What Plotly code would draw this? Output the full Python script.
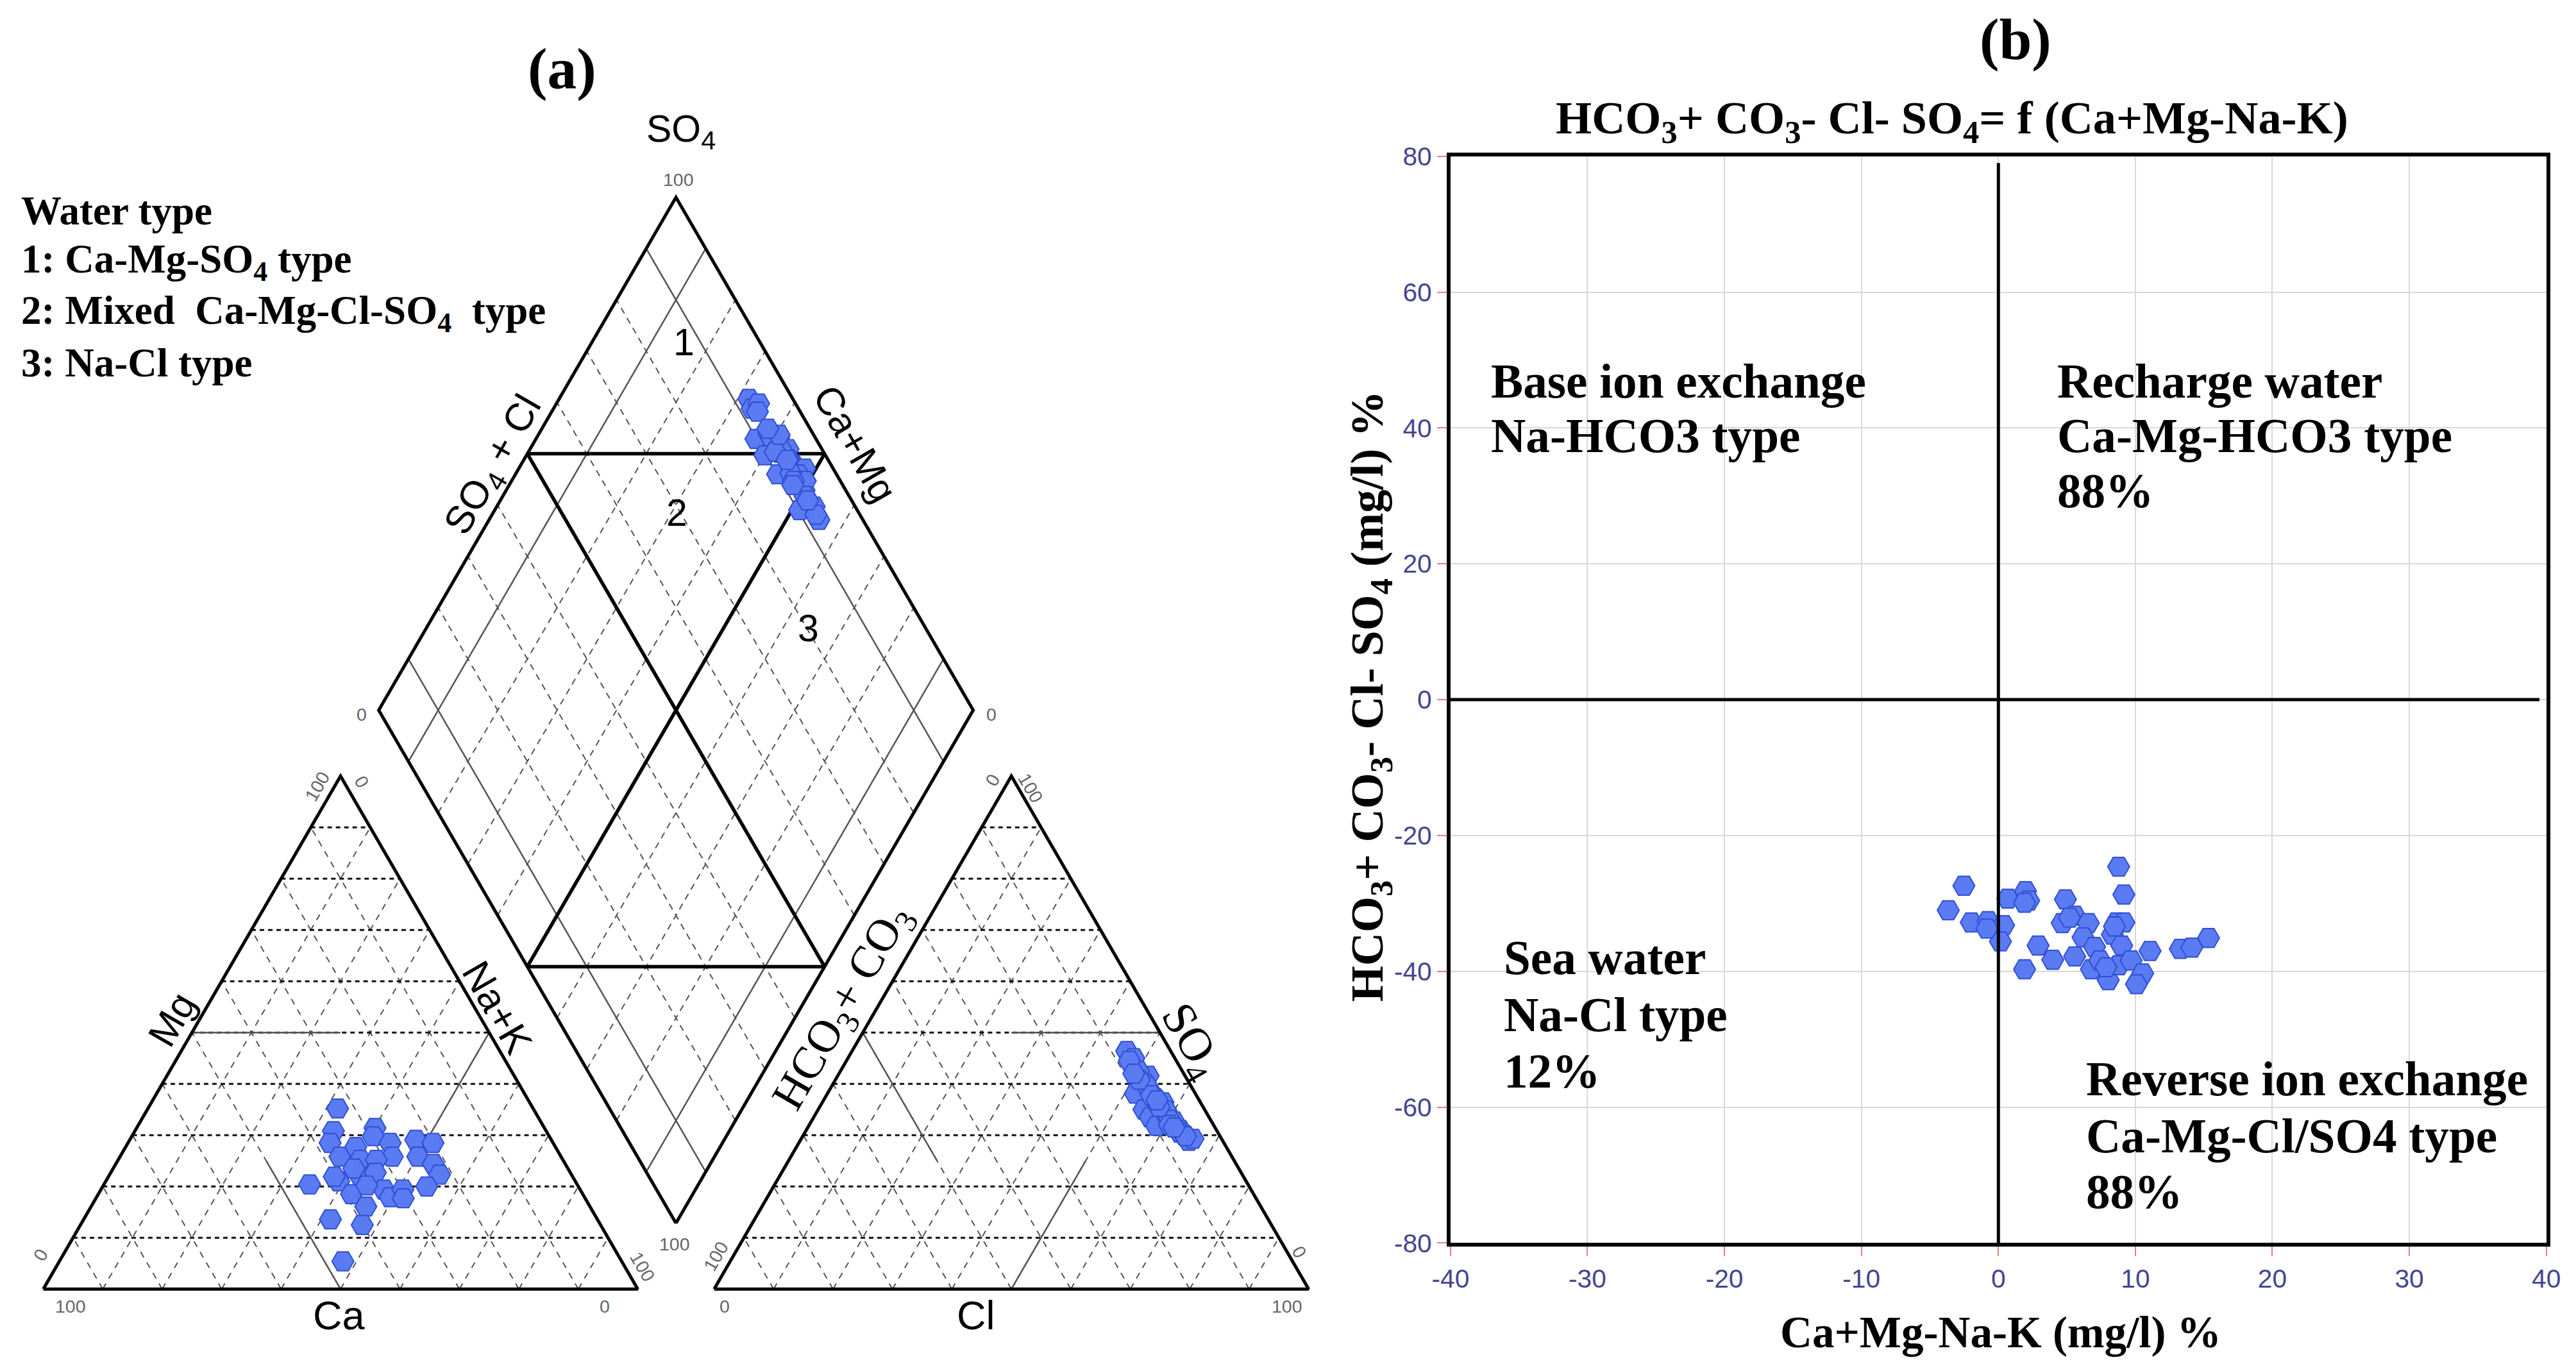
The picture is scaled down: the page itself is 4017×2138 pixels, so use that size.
import math
import plotly.graph_objects as go

W, H = 4017, 2138

# ---------------- Piper diagram samples (% of meq/l) ----------------
mg_pct = [35.2, 30.8, 28.5, 25.8, 27.7, 31.4, 29.8, 28.5, 25.8, 25.2, 25.2, 29.1, 28.5, 25.8, 24.4, 22.3, 20.0,
          20.4, 21.0, 21.9, 22.7, 18.5, 19.4, 17.9, 19.4, 17.7, 16.1, 13.6, 12.5, 5.4, 23.5, 20.2, 21.9]
nak_pct = [31.9, 33.4, 34.0, 37.0, 38.7, 40.1, 40.6, 44.1, 45.8, 40.7, 43.4, 48.1, 51.3, 50.1, 53.4, 55.5, 54.5,
           34.6, 39.2, 42.4, 44.5, 42.6, 47.6, 49.4, 50.8, 51.7, 46.2, 41.5, 47.4, 47.7, 40.5, 44.3, 38.0]
so4_pct = [46.4, 43.9, 41.6, 38.1, 38.5, 35.0, 36.4, 33.5, 32.7, 31.0, 28.9, 29.3, 31.8, 34.3, 45.0, 42.5, 40.0,
           37.2, 39.5, 36.0, 34.8, 33.0, 30.5, 30.0, 32.0, 35.5, 37.8, 40.8, 44.5, 42.0, 29.8, 31.5, 36.8]
cl_pct = [46.2, 48.3, 52.2, 51.8, 54.1, 54.8, 57.3, 56.6, 61.0, 62.9, 65.4, 65.9, 58.5, 58.7, 48.1, 50.1, 52.6,
          55.6, 53.1, 56.6, 58.6, 60.1, 63.1, 64.1, 60.6, 57.1, 54.6, 51.1, 47.6, 49.6, 64.4, 61.6, 56.1]

# ---------------- Chadha diagram samples ----------------
chadha_x = [8.78, -2.52, 9.16, -3.66, 0.69, 1.98, 2.21, 4.89, -1.98, -0.76, 0.38, 0.15, 4.66, 5.57, 6.56, 8.63,
            9.16, 6.18, 7.02, 8.32, 9.0, 2.9, 3.97, 1.91, 5.57, 6.79, 8.02, 8.78, 9.69, 10.53, 10.08, 11.07,
            13.28, 14.12, 15.34, 7.4, -0.84, 5.19, 7.86, 8.47, 1.91]
chadha_y = [-24.6, -27.4, -28.7, -31.0, -29.3, -28.2, -29.6, -29.4, -32.8, -32.6, -33.2, -35.6, -32.9, -31.8,
            -32.9, -32.8, -32.8, -35.0, -36.4, -34.6, -36.2, -36.2, -38.3, -39.7, -37.8, -39.7, -41.3, -39.1,
            -38.4, -40.3, -41.9, -37.0, -36.7, -36.5, -35.1, -38.4, -33.7, -32.1, -39.4, -33.4, -29.9]

x_tickvals = [-40, -30, -20, -10, 0, 10, 20, 30, 40]
x_ticktext = ["-40", "-30", "-20", "-10", "0", "10", "20", "30", "40"]
y_tickvals = [-80, -60, -40, -20, 0, 20, 40, 60, 80]
y_ticktext = ["-80", "-60", "-40", "-20", "0", "20", "40", "60", "80"]

grid_steps = [10, 20, 30, 40, 50, 60, 70, 80, 90]

SERIF = "Liberation Serif"
SANS = "Liberation Sans"
MARKER_FILL = "#5b7bf2"
MARKER_EDGE = "#2f4fd4"

# compensation of the page placement seen in the rendered picture
AX, SX = 32.5, 0.986
AY, SY = 27.7, 0.981
F = 1.0 / ((SX + SY) / 2)


def cx(x):
    return (x - AX) / SX


def cy(y):
    return (y - AY) / SY


# ---------------- Piper geometry ----------------
S3 = math.sqrt(3) / 2
GAP = 12.85
AX0 = 100 + GAP
BX, BY = 100 + GAP / 2, GAP * S3


def tern(right, top, x0=0.0):
    return x0 + right + top / 2.0, top * S3


def dia(cm, sc):
    return BX + (sc - cm) / 2.0, BY + (sc + cm) * S3


def seg_trace(segs, color, width, dash="solid"):
    xs, ys = [], []
    for seg in segs:
        for p in seg:
            xs.append(p[0]); ys.append(p[1])
        xs.append(None); ys.append(None)
    return go.Scatter(x=xs, y=ys, mode="lines", line=dict(color=color, width=width, dash=dash),
                      hoverinfo="skip", showlegend=False, xaxis="x", yaxis="y")


h_segs, s_segs, d_segs = [], [], []
for x0 in (0.0, AX0):
    for k in grid_steps:
        h_segs.append([tern(0, k, x0), tern(100 - k, k, x0)])
        s_segs.append([tern(100 - k, 0, x0), tern(0, 100 - k, x0)])
        s_segs.append([tern(k, 0, x0), tern(k, 100 - k, x0)])
for k in grid_steps:
    if k in (10, 50, 90):
        continue
    d_segs.append([dia(k, 0), dia(k, 100)])
    d_segs.append([dia(0, k), dia(100, k)])

solid_segs = [
    [tern(0, 50), tern(25, 50)], [tern(50, 0), tern(25, 25)], [tern(50, 50), tern(50, 25)],
    [tern(25, 50, AX0), tern(50, 50, AX0)], [tern(0, 50, AX0), tern(25, 25, AX0)], [tern(50, 0, AX0), tern(50, 25, AX0)],
]
for k in (10, 90):
    solid_segs.append([dia(k, 0), dia(k, 100)])
    solid_segs.append([dia(0, k), dia(100, k)])

outline_segs = [
    [tern(0, 0), tern(100, 0), tern(0, 100), tern(0, 0)],
    [tern(0, 0, AX0), tern(100, 0, AX0), tern(0, 100, AX0), tern(0, 0, AX0)],
    [dia(0, 0), dia(100, 0), dia(100, 100), dia(0, 100), dia(0, 0)],
]
bold_segs = [
    [dia(100, 50), dia(50, 100)], [dia(50, 0), dia(0, 50)],
    [dia(100, 50), dia(0, 50)], [dia(50, 100), dia(50, 0)],
]

fig = go.Figure()
fig.add_trace(seg_trace(s_segs, "#555555", 2, "10px,9px"))
fig.add_trace(seg_trace(h_segs, "#111111", 3, "7px,6px"))
fig.add_trace(seg_trace(d_segs, "#555555", 2, "10px,8px"))
fig.add_trace(seg_trace(solid_segs, "#555555", 2.5))
fig.add_trace(seg_trace(outline_segs, "#000000", 5))
fig.add_trace(seg_trace(bold_segs, "#000000", 5.5))

# sample points
cat_pts = [tern(n, m) for n, m in zip(nak_pct, mg_pct)]
an_pts = [tern(c, s, AX0) for c, s in zip(cl_pct, so4_pct)]
dia_pts = [dia(100 - n, s + c) for n, s, c in zip(nak_pct, so4_pct, cl_pct)]
marker = dict(symbol="hexagon2", size=34, color=MARKER_FILL, line=dict(color=MARKER_EDGE, width=2))
for pts in (cat_pts, an_pts, dia_pts):
    fig.add_trace(go.Scatter(x=[p[0] for p in pts], y=[p[1] for p in pts], mode="markers", marker=marker,
                             hoverinfo="skip", showlegend=False, xaxis="x", yaxis="y"))

# Chadha scatter
fig.add_trace(go.Scatter(x=chadha_x, y=chadha_y, mode="markers", marker=marker, hoverinfo="skip",
                         showlegend=False, xaxis="x2", yaxis="y2"))

# ---------------- annotations ----------------
ann = []


def txt(text, xp, yp, size, family=SANS, color="#000000", angle=0, xanchor="center", bold=False):
    t = "<b>%s</b>" % text if bold else text
    ann.append(dict(text=t, x=cx(xp) / W, y=1 - cy(yp) / H, xref="paper", yref="paper", showarrow=False,
                    font=dict(family=family, size=round(size * F, 1), color=color), textangle=angle,
                    xanchor=xanchor, yanchor="middle"))


# panel (a)
txt("(a)", 871, 104, 90, SERIF, bold=True)
txt("SO<sub>4</sub>", 1056, 202, 58)
legend_lines = ["Water type", "1: Ca-Mg-SO<sub>4</sub> type", "2: Mixed  Ca-Mg-Cl-SO<sub>4</sub>  type", "3: Na-Cl type"]
for line, yp in zip(legend_lines, [326, 406, 486, 564]):
    txt(line, 27, yp, 62, SERIF, xanchor="left", bold=True)
txt("SO<sub>4</sub> + Cl", 766, 725, 60, angle=-60)
txt("Ca+Mg", 1328, 690, 60, angle=60)
txt("1", 1061, 532, 58)
txt("2", 1050, 799, 58)
txt("3", 1255, 979, 58)
txt("Mg", 264, 1590, 60, angle=-60)
txt("Na+K", 770, 1572, 60, angle=60)
txt("Ca", 523, 2053, 62)
txt("HCO<sub>3</sub>+ CO<sub>3</sub>", 1310, 1572, 70, SERIF, angle=-60)
txt("SO<sub>4</sub>", 1850, 1625, 72, SERIF, angle=60)
txt("Cl", 1516, 2053, 62)
GREY = "#666666"
for t, xp, yp, a in [("100", 1052, 277, 0), ("0", 559, 1113, 0), ("0", 1540, 1113, 0), ("100", 1046, 1942, 0),
                     ("100", 105, 2039, 0), ("0", 938, 2039, 0), ("0", 59, 1959, -60), ("100", 490, 1226, -60),
                     ("0", 559, 1219, 60), ("100", 996, 1977, 60),
                     ("0", 1542, 1216, -60), ("100", 1601, 1229, 60), ("100", 1111, 1961, -60), ("0", 2019, 1954, 60),
                     ("0", 1124, 2039, 0), ("100", 2000, 2039, 0)]:
    txt(t, xp, yp, 28, SANS, GREY, angle=a)

# panel (b)
txt("(b)", 3135, 58, 90, SERIF, bold=True)
txt("HCO<sub>3</sub>+ CO<sub>3</sub>- Cl- SO<sub>4</sub>= f (Ca+Mg-Na-K)", 3036, 186, 71, SERIF, bold=True)
txt("Ca+Mg-Na-K (mg/l) %", 3112, 2079, 68, SERIF, bold=True)
txt("HCO<sub>3</sub>+ CO<sub>3</sub>- Cl- SO<sub>4</sub> (mg/l) %", 2130, 1085, 71, SERIF, angle=-90, bold=True)

quad_lines = [
    ("Base ion exchange", -37.15, 46.9), ("Na-HCO3 type", -37.15, 38.9),
    ("Recharge water", 4.2, 46.9), ("Ca-Mg-HCO3 type", 4.2, 38.9), ("88%", 4.2, 30.7),
    ("Sea water", -36.2, -38.0), ("Na-Cl type", -36.2, -46.4), ("12%", -36.2, -54.7),
    ("Reverse ion exchange", 6.3, -55.8), ("Ca-Mg-Cl/SO4 type", 6.3, -64.2), ("88%", 6.3, -72.5),
]
for t, qx, qy in quad_lines:
    ann.append(dict(text="<b>%s</b>" % t, x=qx, y=qy, xref="x2", yref="y2", showarrow=False,
                    font=dict(family=SERIF, size=round(74 * F, 1), color="#000000"),
                    xanchor="left", yanchor="middle"))

# piper axes: reference pixel mapping px = 63 + 9.26*X ; py = 2012 - 9.26*Y
SC = 9.26
x0c, kx = cx(63), SC / SX
y0c, ky = cy(2012), SC / SY
xdom = [0, 0.535]
xr = [-x0c / kx, (xdom[1] * W - x0c) / kx]
yr = [(y0c - H) / ky, y0c / ky]

axis_font = dict(family=SANS, size=round(40 * F, 1), color="#45458f")
fig.update_layout(
    width=W, height=H, autosize=False, margin=dict(l=0, r=0, t=0, b=0),
    paper_bgcolor="white", plot_bgcolor="white", showlegend=False,
    annotations=ann,
    xaxis=dict(domain=xdom, range=xr, visible=False, fixedrange=True),
    yaxis=dict(domain=[0, 1], range=yr, visible=False, fixedrange=True),
    xaxis2=dict(domain=[cx(2255) / W, cx(3962) / W], range=[-40, 40], anchor="y2",
                tickvals=x_tickvals, ticktext=x_ticktext, showgrid=True, gridcolor="#d9d9d9", gridwidth=2,
                zeroline=False, showline=True, mirror=True, linecolor="#000000", linewidth=6,
                ticks="outside", ticklen=15, tickwidth=2, tickcolor="#e58080", tickfont=axis_font),
    yaxis2=dict(domain=[1 - cy(1940) / H, 1 - cy(241) / H], range=[-80, 80], anchor="x2",
                tickvals=y_tickvals, ticktext=y_ticktext, showgrid=True, gridcolor="#d9d9d9", gridwidth=2,
                zeroline=False, showline=True, mirror=True, linecolor="#000000", linewidth=6,
                ticks="outside", ticklen=15, tickwidth=2, tickcolor="#e58080", tickfont=axis_font),
    shapes=[
        dict(type="line", xref="x2", yref="y2", x0=0, x1=0, y0=-80, y1=79, line=dict(color="black", width=5)),
        dict(type="line", xref="x2", yref="y2", x0=-40, x1=39.5, y0=0, y1=0, line=dict(color="black", width=5)),
    ],
)

fig.write_html("out.html")
